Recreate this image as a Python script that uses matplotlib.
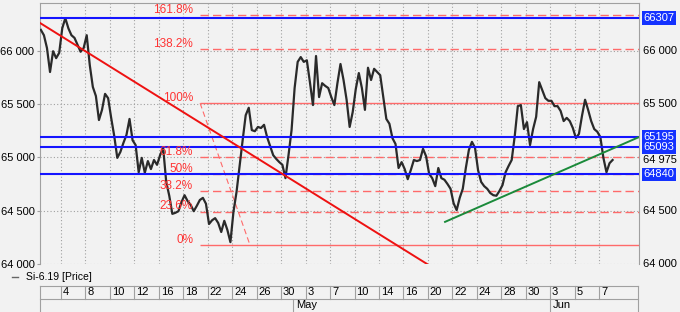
import numpy as np
import matplotlib.pyplot as plt
from matplotlib.lines import Line2D

plt.rcParams['font.family'] = ['Liberation Sans', 'DejaVu Sans']

# trading-day axis: one gridline every two sessions
day_labels = ['4', '8', '10', '12', '16', '18', '22', '24', '26', '30', '3', '7',
              '10', '14', '16', '20', '22', '24', '28', '30', '3', '5', '7']
month_labels = ['May', 'Jun']
month_start = [19, 40]  # session index where the month begins

# Si-6.19 price, quarter-session bars
first_bar = -1.65
bar_step = 0.25
price = [
    66195, 66145, 66025, 65800, 65995, 65930, 65980, 66210, 66305, 66210,
    66145, 66120, 66055, 65990, 66025, 66145, 65865, 65660, 65575, 65350,
    65445, 65595, 65555, 65370, 65200, 64995, 65050, 65135, 65210, 65360,
    65160, 65115, 64860, 64995, 64855, 64965, 64890, 64975, 64930, 65020,
    65090, 64770, 64640, 64470, 64480, 64495, 64580, 64645, 64590, 64555,
    64495, 64545, 64600, 64620, 64565, 64375, 64410, 64430, 64385, 64300,
    64405, 64320, 64205, 64490, 64675, 64920, 65160, 65395, 65465, 65255,
    65245, 65285, 65275, 65305, 65190, 65105, 65020, 64985, 64955, 64930,
    64805, 65020, 65255, 65650, 65895, 65940, 65895, 65910, 65705, 65490,
    65950, 65565, 65695, 65670, 65650, 65565, 65490, 65695, 65875, 65725,
    65540, 65285, 65425, 65640, 65790, 65650, 65445, 65840, 65725, 65830,
    65800, 65770, 65565, 65360, 65315, 65180, 65125, 64900, 64955, 64890,
    64795, 64880, 64975, 64965, 64975, 65080, 65010, 64845, 64805, 64730,
    64900, 64805, 64790, 64750, 64705, 64570, 64505, 64620, 64705, 64900,
    65070, 65145, 65090, 64880, 64770, 64730, 64705, 64665, 64645, 64640,
    64685, 64740, 64860, 64920, 64975, 65200, 65480, 65490, 65265, 65330,
    65115, 65265, 65380, 65705, 65630, 65555, 65530, 65530, 65480, 65480,
    65435, 65340, 65370, 65340, 65275, 65180, 65220, 65390, 65540, 65445,
    65340, 65265, 65240, 65190, 64995, 64860, 64945, 64975,
]
last_price = 64975

# horizontal levels (blue)
levels = [66307, 65195, 65093, 64840]

# trend lines
trend_days = [-1.72, 29.93]
trend_prices = [66260, 64000]
support_days = [31.4, 47.26]
support_prices = [64395, 65190]

# fibonacci grid
fib_low = 64178
fib_high = 65508
fib_days = [11.37, 15.45]
fib_ratios = [0, 0.236, 0.382, 0.5, 0.618, 1.0, 1.382, 1.618]
fib_labels = ['0%', '23.6%', '38.2%', '50%', '61.8%', '100%', '138.2%', '161.8%']


def fmt(v):
    return f'{int(v):,}'.replace(',', ' ')


bg = '#f2f2f2'
grid_c = '#a0a0a0'
x0, x1 = -1.72, 47.26

fig = plt.figure(figsize=(6.8, 3.12), dpi=100, facecolor=bg)
ax = fig.add_axes([40 / 680, 48 / 312, 599 / 680, 261 / 312])
ax.set_facecolor(bg)
ax.set_xlim(x0, x1)
ax.set_ylim(64000, 66447)

ticks = np.arange(0, 2 * len(day_labels), 2)
ax.set_xticks(ticks)
ax.tick_params(axis='x', length=0, labelbottom=False)
yt = [64000, 64500, 65000, 65500, 66000]
ax.set_yticks(yt)
ax.set_yticklabels([fmt(v) for v in yt])
ax.tick_params(axis='y', length=2, pad=2, labelsize=8, color=grid_c, labelcolor='black')
ax.grid(color=grid_c, ls=(0, (1, 2)), lw=0.8)
ax.set_axisbelow(True)
for s in ['left', 'right', 'top']:
    ax.spines[s].set_color(grid_c)
    ax.spines[s].set_linewidth(0.8)
ax.spines['bottom'].set_visible(False)

# price
t = first_bar + bar_step * np.arange(len(price))
ax.plot(t, price, color='#2a2a2a', lw=1.6, zorder=3)

# fibonacci
rng = fib_high - fib_low
for r, lab in zip(fib_ratios, fib_labels):
    y = fib_low + r * rng
    ls = '-' if r in (0, 1.0) else (0, (6, 3))
    ax.hlines(y, fib_days[0], x1, colors='#ff6a6a', linestyles=ls, lw=1, zorder=2.5)
    ax.annotate(lab, xy=(fib_days[0], y), xytext=(-5, 1.5), textcoords='offset points',
                ha='right', va='baseline', color='#ff3333', fontsize=8.5, zorder=6)
ax.plot(fib_days, [fib_high, fib_low], color='#ff6a6a', lw=0.8, ls=(0, (5, 3)), zorder=2.5)

# levels and trend lines
for v in levels:
    ax.axhline(v, color='#1414ff', lw=1.5, zorder=4)
ax.plot(trend_days, trend_prices, color='#ee1111', lw=1.4, zorder=5)
ax.plot(support_days, support_prices, color='#1a8a3a', lw=1.4, zorder=5)

# right-hand labels
for v in [64000, 64500, 65500, 66000]:
    ax.annotate(fmt(v), xy=(1, v), xycoords=('axes fraction', 'data'), xytext=(3, 0),
                textcoords='offset points', va='center', fontsize=8)
ax.annotate(fmt(last_price), xy=(1, last_price), xycoords=('axes fraction', 'data'),
            xytext=(3, 0), textcoords='offset points', va='center', fontsize=8)
for v in levels:
    ax.annotate(str(v), xy=(1, v), xycoords=('axes fraction', 'data'), xytext=(3, 0),
                textcoords='offset points', va='center', fontsize=8, color='white',
                bbox=dict(boxstyle='square,pad=0.15', fc='#1432ff', ec='none'))

# date strip
axd = fig.add_axes([40 / 680, 0, 599 / 680, 27 / 312])
axd.set_xlim(x0, x1)
axd.set_ylim(0, 27)
axd.axis('off')
kw = dict(color=grid_c, lw=0.8, clip_on=False)
axd.plot([x0, x1 - 0.08], [26.5, 26.5], **kw)
axd.plot([x0, x1 - 0.08], [13.5, 13.5], **kw)
axd.plot([x0, x0], [0, 26.5], **kw)
axd.plot([x1 - 0.08, x1 - 0.08], [0, 26.5], **kw)
for d, lab in zip(ticks, day_labels):
    axd.plot([d, d], [13.5, 26.5], **kw)
    axd.text(d + 0.15, 20, lab, va='center', ha='left', fontsize=8)
for d, lab in zip(month_start, month_labels):
    axd.plot([d, d], [0, 13.5], **kw)
    axd.text(d + 0.2, 6.8, lab, va='center', ha='left', fontsize=8)

# legend
fig.add_artist(Line2D([11.7 / 680, 18.3 / 680], [35 / 312, 35 / 312], color='#666666', lw=1))
fig.text(26 / 680, 35 / 312, 'Si-6.19 [Price]', va='center', fontsize=7.5)

fig.savefig('out.png', dpi=100, facecolor=bg)
